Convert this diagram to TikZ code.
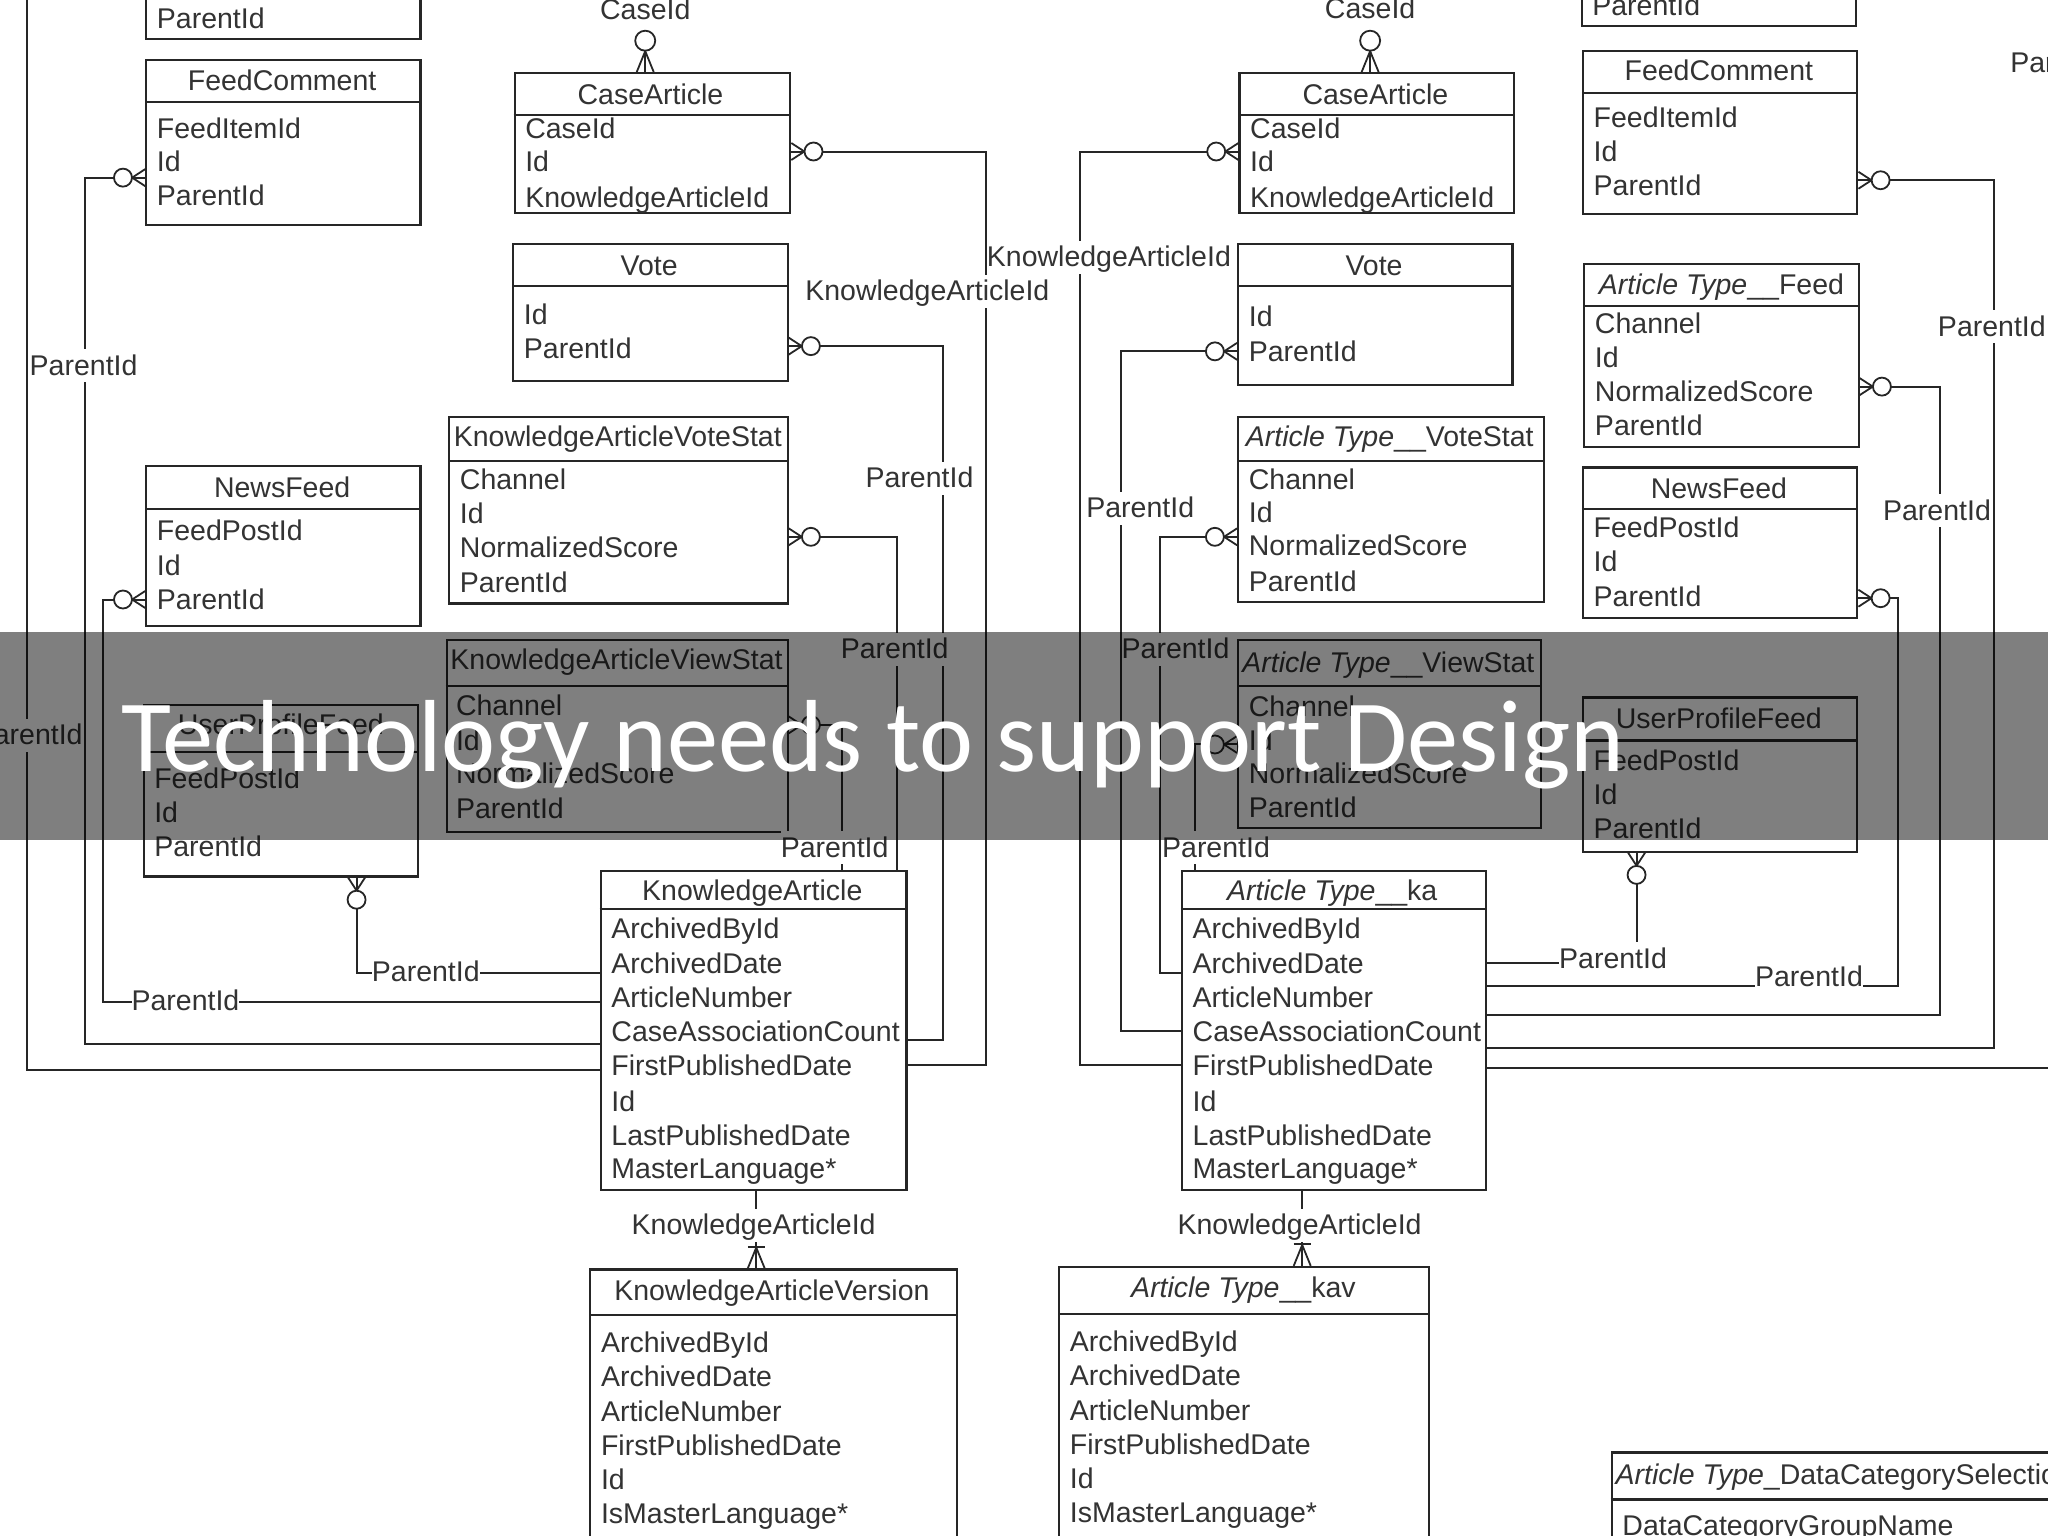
\documentclass[tikz,border=0pt]{standalone}
\usepackage{fontspec}
\setmainfont{Liberation Sans}
\newfontfamily\bandfont{Carlito}
\usetikzlibrary{fit,calc}
\definecolor{ink}{gray}{0.15}
\definecolor{txt}{gray}{0.2}
\tikzset{
  x=1.30612pt,y=-1.30612pt,
  ebox/.style={draw=ink,line width=2.2pt,rectangle,inner sep=0pt},
  divline/.style={draw=ink,line width=2.2pt},
  ttl/.style={text=txt,font=\fontsize{28.5}{30}\selectfont,inner sep=0pt,text height=26pt,text depth=6pt},
  fld/.style={text=txt,font=\fontsize{28.5}{30}\selectfont,inner sep=0pt,anchor=west,text height=26pt,text depth=6pt},
  lbl/.style={text=txt,font=\fontsize{28.5}{30}\selectfont,fill=white,inner xsep=0pt,inner ysep=0pt,text height=26pt,text depth=7pt},
  conn/.style={draw=ink,line width=2pt},
  crow/.pic={
    \draw[conn,line width=1.8pt] (0,-6.5) -- (10,0) -- (0,6.5);
    \draw[conn,line width=1.8pt] (0,0) -- (10,0);
    \draw[conn,line width=1.8pt,fill=white] (17,0) circle [radius=9pt];
  },
  crowtall/.pic={
    \draw[conn,line width=1.8pt] (0,-6.5) -- (16,0) -- (0,6.5);
    \draw[conn,line width=1.8pt] (0,0) -- (16,0);
    \draw[conn,line width=1.8pt,fill=white] (24,0) circle [radius=10pt];
  },
  crowbar/.pic={
    \draw[conn,line width=1.8pt] (0,-6.5) -- (16,0) -- (0,6.5);
    \draw[conn,line width=1.8pt] (0,0) -- (17,0);
    \draw[conn,line width=1.8pt] (16.5,-6.5) -- (16.5,6.5);
  },
}
% name, x1,y1,x2,y2, ydiv, titlex, titley, title
\newcommand{\entbox}[9]{%
  \node[ebox,fit={(#2,#3)(#4,#5)}] (#1) {};
  \draw[divline] (#1.west |- 0,#6) -- (#1.east |- 0,#6);
  \node[ttl] (#1-t) at (#7,#8) {#9};
}
\newcommand{\flds}[3]{%
  \foreach \yy/\tt [count=\i] in {#3} {\node[fld] (#1-f\i) at (#2,\yy) {\tt};}
}
\begin{document}
\begin{tikzpicture}
\clip (0,0) rectangle (1568,1176);
\fill[white] (0,0) rectangle (1568,1176);

% ---- entities, left
\entbox{topl}{112}{-20}{322}{30}{-10}{216}{-15}{}
\flds{topl}{120}{14/ParentId}
\entbox{fcl}{112}{46}{322}{172}{78}{216}{62}{FeedComment}
\flds{fcl}{120}{98/FeedItemId,124/Id,150/ParentId}
\entbox{nfl}{112}{357}{322}{479}{390}{216}{373}{NewsFeed}
\flds{nfl}{120}{406/FeedPostId,433/Id,459/ParentId}
\entbox{upl}{110}{540}{320}{671}{576}{215}{555}{UserProfileFeed}
\flds{upl}{118}{596/FeedPostId,622/Id,648/ParentId}
\entbox{cal}{394}{56}{605}{163}{88}{498}{72}{CaseArticle}
\flds{cal}{402}{98/CaseId,124/Id,151/KnowledgeArticleId}
\entbox{vol}{393}{187}{603}{292}{219}{497}{203}{Vote}
\flds{vol}{401}{241/Id,267/ParentId}
\entbox{vsl}{344}{319}{603}{462}{353}{473}{334}{KnowledgeArticleVoteStat}
\flds{vsl}{352}{367/Channel,393/Id,419/NormalizedScore,446/ParentId}
\entbox{wsl}{342}{490}{603}{637}{525}{472}{505}{KnowledgeArticleViewStat}
\flds{wsl}{349}{540/Channel,567/Id,592/NormalizedScore,619/ParentId}
\entbox{ka}{460}{667}{694}{911}{696}{576}{682}{KnowledgeArticle}
\flds{ka}{468}{711/ArchivedById,738/ArchivedDate,764/ArticleNumber,790/CaseAssociationCount,816/FirstPublishedDate,843/Id,869/LastPublishedDate,895/MasterLanguage*}
\entbox{kav}{452}{972}{733}{1190}{1007}{591}{988}{KnowledgeArticleVersion}
\flds{kav}{460}{1028/ArchivedById,1054/ArchivedDate,1081/ArticleNumber,1107/FirstPublishedDate,1133/Id,1159/IsMasterLanguage*}

% ---- entities, right
\entbox{car}{949}{56}{1159}{163}{88}{1053}{72}{CaseArticle}
\flds{car}{957}{98/CaseId,124/Id,151/KnowledgeArticleId}
\entbox{vor}{948}{187}{1158}{295}{219}{1052}{203}{Vote}
\flds{vor}{956}{242/Id,269/ParentId}
\entbox{vsr}{948}{319}{1182}{461}{353}{1064}{334}{\textit{Article Type}\_\_VoteStat}
\flds{vsr}{956}{367/Channel,392/Id,418/NormalizedScore,445/ParentId}
\entbox{wsr}{948}{490}{1180}{634}{525}{1063}{507}{\textit{Article Type}\_\_ViewStat}
\flds{wsr}{956}{541/Channel,567/Id,592/NormalizedScore,618/ParentId}
\entbox{atka}{905}{667}{1138}{911}{696}{1020}{682}{\textit{Article Type}\_\_ka}
\flds{atka}{913}{711/ArchivedById,738/ArchivedDate,764/ArticleNumber,790/CaseAssociationCount,816/FirstPublishedDate,843/Id,869/LastPublishedDate,895/MasterLanguage*}
\entbox{atkav}{811}{970}{1094}{1190}{1006}{952}{986}{\textit{Article Type}\_\_kav}
\flds{atkav}{819}{1027/ArchivedById,1053/ArchivedDate,1080/ArticleNumber,1106/FirstPublishedDate,1132/Id,1158/IsMasterLanguage*}
\entbox{topr}{1211}{-20}{1421}{20}{-10}{1316}{-15}{}
\flds{topr}{1219}{4/ParentId}
\entbox{fcr}{1212}{39}{1422}{164}{71}{1316}{54}{FeedComment}
\flds{fcr}{1220}{90/FeedItemId,116/Id,142/ParentId}
\entbox{fdr}{1213}{202}{1423}{342}{234}{1318}{218}{\textit{Article Type}\_\_Feed}
\flds{fdr}{1221}{248/Channel,274/Id,300/NormalizedScore,326/ParentId}
\entbox{nfr}{1212}{358}{1422}{473}{390}{1316}{374}{NewsFeed}
\flds{nfr}{1220}{404/FeedPostId,430/Id,457/ParentId}
\entbox{upr}{1212}{534}{1422}{652}{567}{1316}{550}{UserProfileFeed}
\flds{upr}{1220}{582/FeedPostId,608/Id,634/ParentId}
\entbox{dcs}{1234}{1112}{1620}{1200}{1148}{1412}{1129}{\textit{Article Type}\_DataCategorySelection}
\flds{dcs}{1242}{1168/DataCategoryGroupName}

% ---- connectors, left
\coordinate (offtopa) at (21,-20);
\draw[conn] (offtopa) -- (21,819) -- (ka.west |- 0,819);
\draw[conn] (ka.west |- 0,799) -| (65,136) -- (fcl.west |- 0,136);
\draw[conn] (ka.west |- 0,767) -| (79,459) -- (nfl.west |- 0,459);
\draw[conn] (upl.south -| 273,0) |- (ka.west |- 0,745);
\draw[conn] (ka.east |- 0,815) -| (755,116) -- (cal.east |- 0,116);
\draw[conn] (ka.east |- 0,796) -| (722,265) -- (vol.east |- 0,265);
\draw[conn] (ka.north -| 687,0) |- (vsl.east |- 0,411);
\draw[conn] (ka.north -| 645,0) |- (wsl.east |- 0,555);
\draw[conn] (ka.south -| 579,0) -- (kav.north -| 579,0);
\pic[rotate=180] at (fcl.west |- 0,136) {crow};
\pic[rotate=180] at (nfl.west |- 0,459) {crow};
\pic[rotate=-90] at (upl.south -| 273,0) {crow};
\pic at (cal.east |- 0,116) {crow};
\pic at (vol.east |- 0,265) {crow};
\pic at (vsl.east |- 0,411) {crow};
\pic at (wsl.east |- 0,555) {crow};
\pic[rotate=90] at (kav.north -| 579,0) {crowbar};
\pic[rotate=90] at (cal.north -| 494,0) {crowtall};
\node[lbl] (cidl) at (494,8) {CaseId};

% ---- connectors, right
\draw[conn] (atka.west |- 0,815) -| (827,116) -- (car.west |- 0,116);
\draw[conn] (atka.west |- 0,789) -| (858,269) -- (vor.west |- 0,269);
\draw[conn] (atka.west |- 0,745) -| (888,411) -- (vsr.west |- 0,411);
\draw[conn] (atka.north -| 915,0) |- (wsr.west |- 0,570);
\draw[conn] (upr.south -| 1253,0) |- (atka.east |- 0,737);
\draw[conn] (atka.east |- 0,755) -| (1453,458) -- (nfr.east |- 0,458);
\draw[conn] (atka.east |- 0,777) -| (1485,296) -- (fdr.east |- 0,296);
\draw[conn] (atka.east |- 0,802) -| (1527,138) -- (fcr.east |- 0,138);
\coordinate (offright) at (1600,818);
\draw[conn] (atka.east |- 0,818) -- (offright);
\draw[conn] (atka.south -| 997,0) -- (atkav.north -| 997,0);
\pic[rotate=180] at (car.west |- 0,116) {crow};
\pic[rotate=180] at (vor.west |- 0,269) {crow};
\pic[rotate=180] at (vsr.west |- 0,411) {crow};
\pic[rotate=180] at (wsr.west |- 0,570) {crow};
\pic[rotate=-90] at (upr.south -| 1253,0) {crow};
\pic at (nfr.east |- 0,458) {crow};
\pic at (fdr.east |- 0,296) {crow};
\pic at (fcr.east |- 0,138) {crow};
\pic[rotate=90] at (atkav.north -| 997,0) {crowbar};
\pic[rotate=90] at (car.north -| 1049,0) {crowtall};
\node[lbl] (cidr) at (1049,7) {CaseId};

% ---- labels
\node[lbl] (l1) at (22,563) {ParentId};
\node[lbl] (l2) at (64,280) {ParentId};
\node[lbl] (l3) at (142,766) {ParentId};
\node[lbl] (l4) at (326,744) {ParentId};
\node[lbl] (l5) at (710,223) {KnowledgeArticleId};
\node[lbl] (l6) at (849,197) {KnowledgeArticleId};
\node[lbl] (l7) at (704,366) {ParentId};
\node[lbl] (l8) at (685,497) {ParentId};
\node[lbl] (l9) at (639,649) {ParentId};
\node[lbl] (l10) at (577,938) {KnowledgeArticleId};
\node[lbl] (l11) at (995,938) {KnowledgeArticleId};
\node[lbl] (l12) at (873,389) {ParentId};
\node[lbl] (l13) at (900,497) {ParentId};
\node[lbl] (l14) at (931,649) {ParentId};
\node[lbl] (l15) at (1235,734) {ParentId};
\node[lbl] (l16) at (1385,748) {ParentId};
\node[lbl] (l17) at (1483,391) {ParentId};
\node[lbl] (l18) at (1525,250) {ParentId};
\node[lbl,anchor=west] (l19) at (1539,48) {ParentId};

% ---- band
\node[fit={(0,484)(1568,643)},inner sep=0pt,fill=black,fill opacity=0.5,rectangle] (band) {};
\node[text=white,font=\bandfont\fontsize{102.4}{110}\selectfont,anchor=base west,inner sep=0pt] (bandtitle) at (93,591) {Technology needs to support Design};
\end{tikzpicture}
\end{document}
